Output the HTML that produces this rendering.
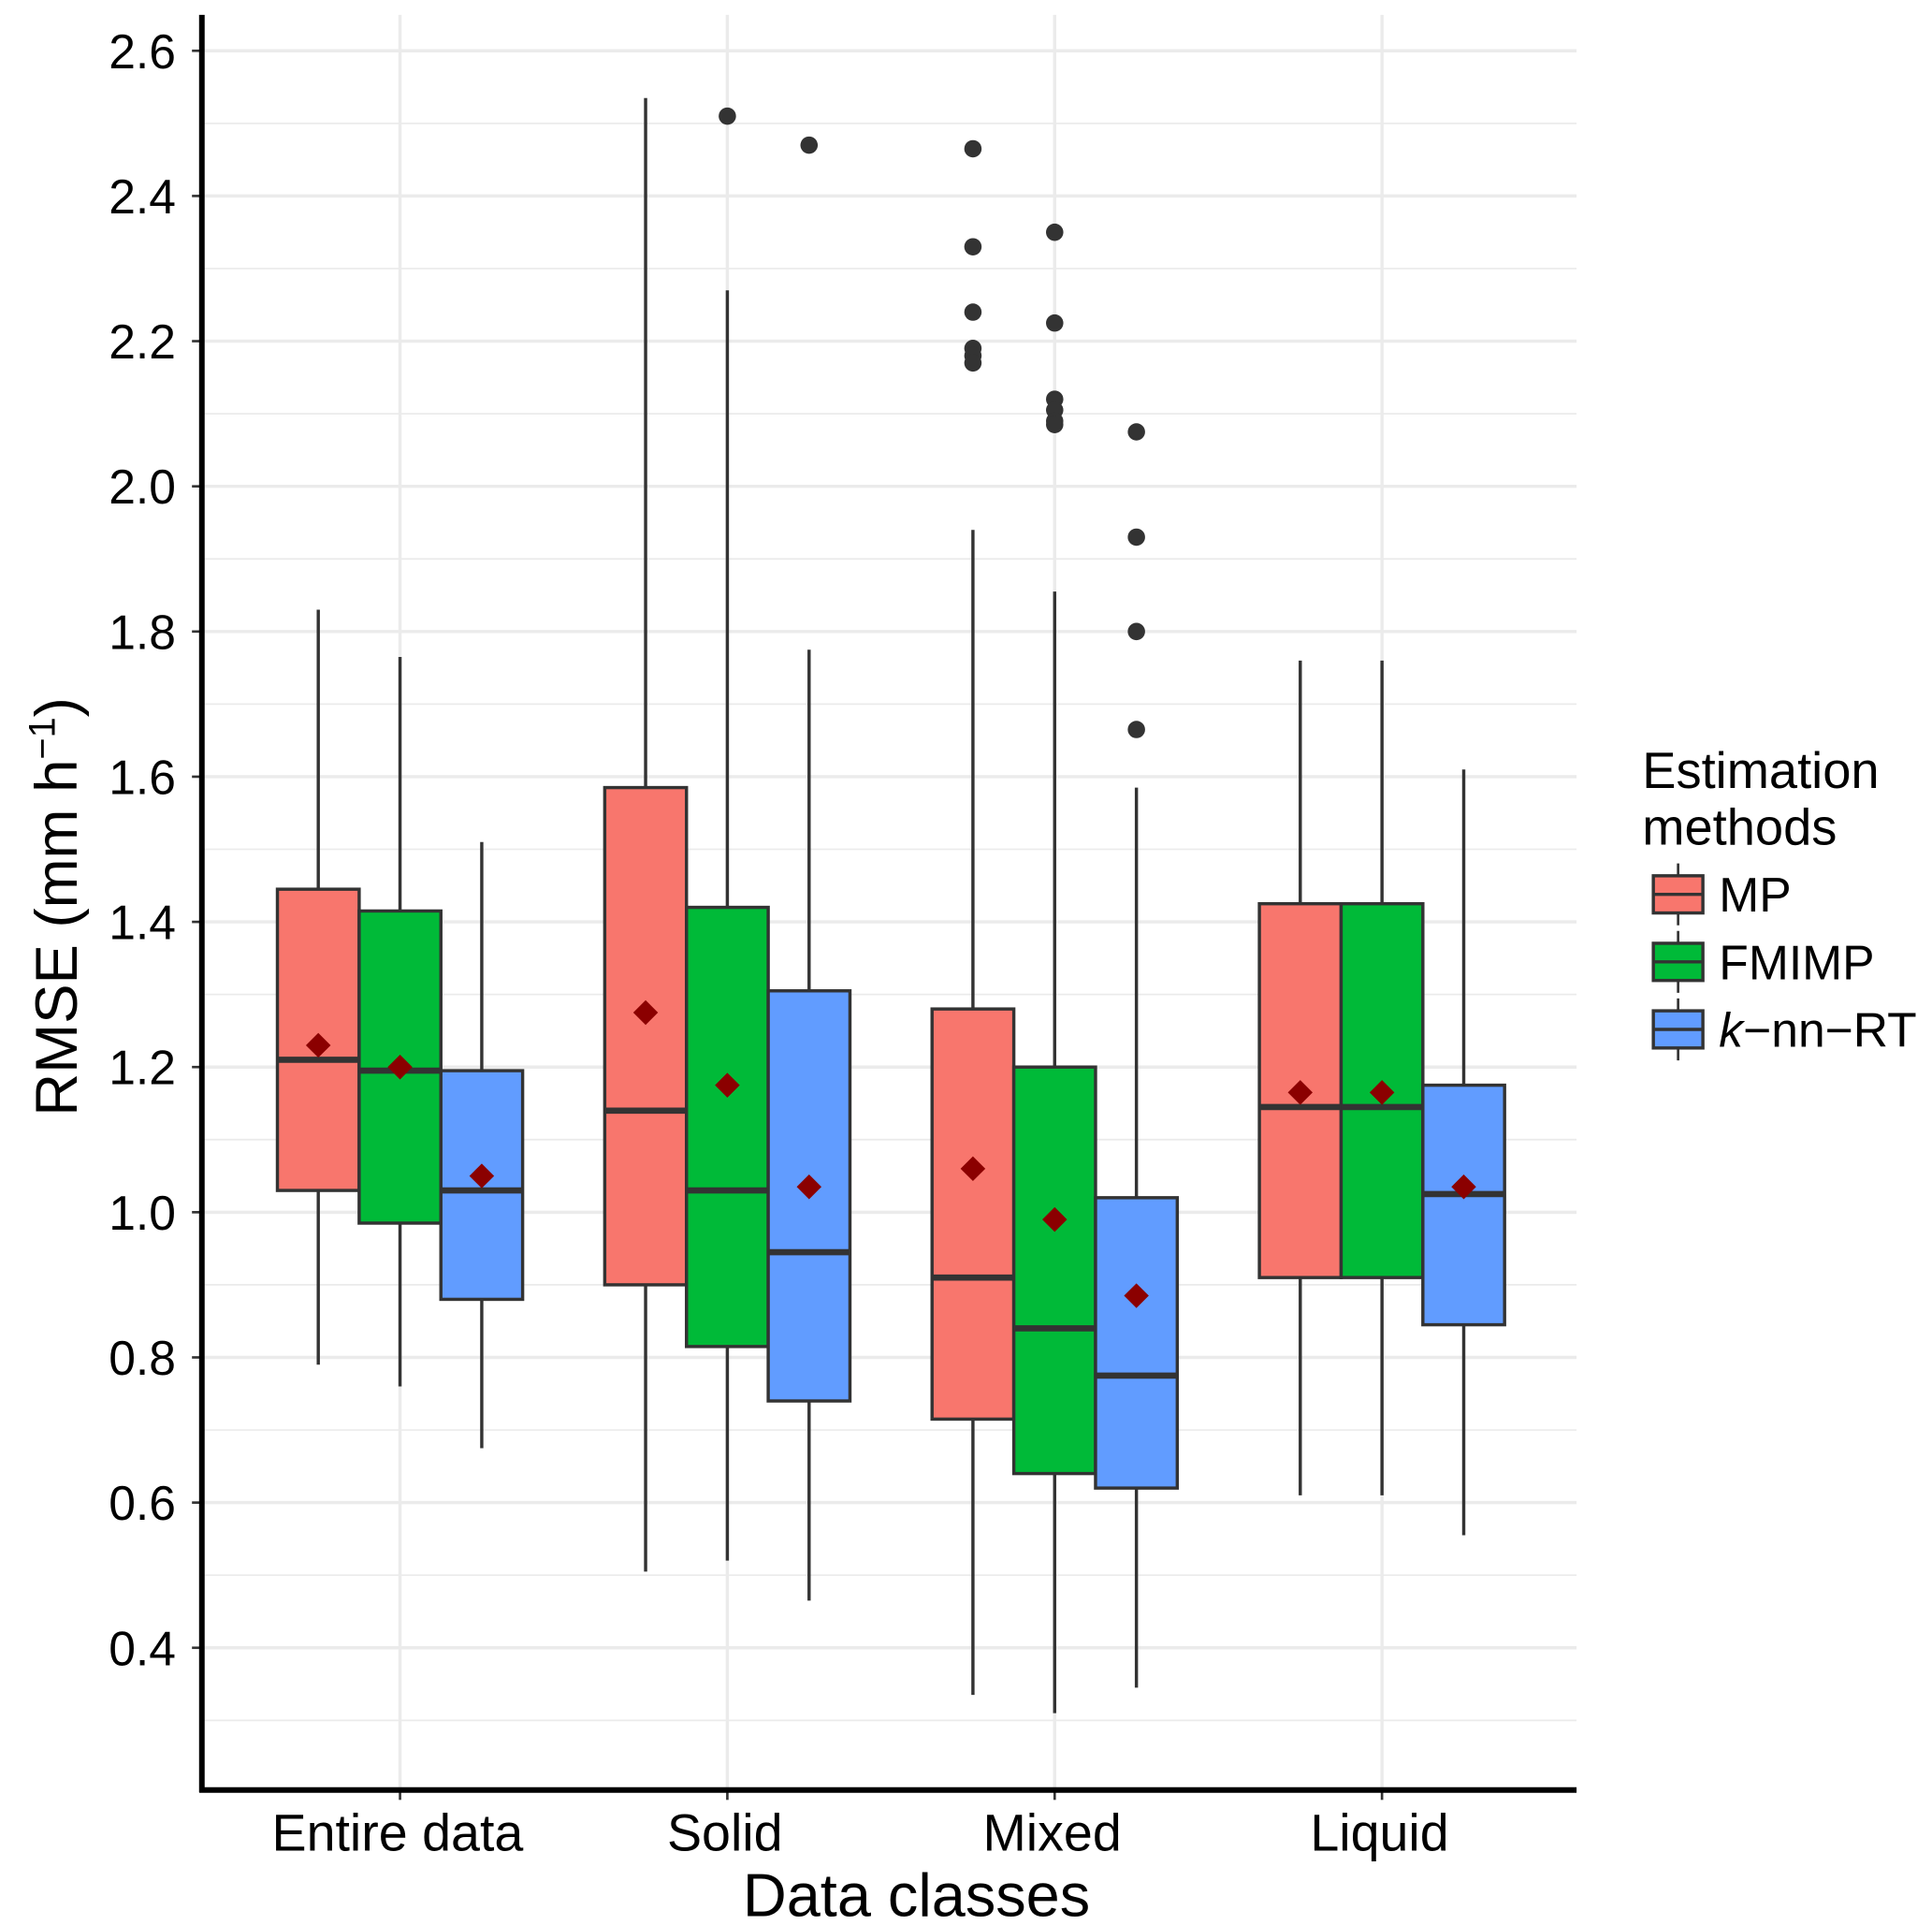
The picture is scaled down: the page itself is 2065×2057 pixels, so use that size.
<!DOCTYPE html>
<html><head><meta charset="utf-8"><style>
html,body{margin:0;padding:0;background:#fff}
svg{display:block}
text{font-family:"Liberation Sans",Arial,sans-serif;fill:#000}
</style></head><body>
<svg id="chart" width="2065" height="2057" viewBox="0 0 1560 1554" preserveAspectRatio="none">
<g id="grid"></g>
<g id="boxes"></g>
<g id="axes"></g>
<g id="legend">
<text x="1326" y="636" font-size="41">Estimation</text>
<text x="1326" y="682" font-size="41">methods</text>
</g>
<text x="740" y="1547" font-size="49" text-anchor="middle">Data classes</text>
<text transform="translate(62,732) rotate(-90)" font-size="48" text-anchor="middle">RMSE  (mm h<tspan font-size="30" dy="-18">−1</tspan><tspan dy="18">)</tspan></text>
</svg>
<script>
const categories=["Entire data","Solid","Mixed","Liquid"];
const methods=["MP","FMIMP","k-nn-RT"];
const colors=["#F8766D","#00BA38","#619CFF"];
const yTicks=[0.4,0.6,0.8,1.0,1.2,1.4,1.6,1.8,2.0,2.2,2.4,2.6];
// [lowWhisker, q1, median, q3, highWhisker, mean] per category per method
const statsMP=[[0.79,1.03,1.21,1.445,1.83,1.23],[0.505,0.90,1.14,1.585,2.535,1.275],[0.335,0.715,0.91,1.28,1.94,1.06],[0.61,0.91,1.145,1.425,1.76,1.165]];
const statsFMIMP=[[0.76,0.985,1.195,1.415,1.765,1.20],[0.52,0.815,1.03,1.42,2.27,1.175],[0.31,0.64,0.84,1.20,1.855,0.99],[0.61,0.91,1.145,1.425,1.76,1.165]];
const statsKNN=[[0.675,0.88,1.03,1.195,1.51,1.05],[0.465,0.74,0.945,1.305,1.775,1.035],[0.345,0.62,0.775,1.02,1.585,0.885],[0.555,0.845,1.025,1.175,1.61,1.035]];
const outliersMP=[[],[],[2.465,2.33,2.24,2.19,2.18,2.17],[]];
const outliersFMIMP=[[],[2.51],[2.35,2.225,2.12,2.105,2.09,2.085],[]];
const outliersKNN=[[],[2.47],[2.075,1.93,1.80,1.665],[]];

const NS="http://www.w3.org/2000/svg";
const X0=163,X1=1273,YB=1445,YT=12;
const y=v=>41+(2.6-v)*586;
const xc=i=>323+i*264.3;
const bw=66;
function mk(p,tag,a){const e=document.createElementNS(NS,tag);for(const k in a)e.setAttribute(k,a[k]);p.appendChild(e);return e;}
const grid=document.getElementById('grid'),boxes=document.getElementById('boxes'),axes=document.getElementById('axes'),legend=document.getElementById('legend');
for(let v=0.3;v<=2.55;v+=0.2){const l=mk(grid,'line',{x1:X0,x2:X1,y1:y(v),y2:y(v),stroke:'#ebebeb','stroke-width':1.3});

}
yTicks.forEach(v=>{const l=mk(grid,'line',{x1:X0,x2:X1,y1:y(v),y2:y(v),stroke:'#ebebeb','stroke-width':2.6});


const t=mk(axes,'text',{x:142,y:y(v)+14,'font-size':39,'text-anchor':'end'});t.textContent=v.toFixed(1);


const tk=mk(axes,'line',{x1:155,x2:163,y1:y(v),y2:y(v),stroke:'#333','stroke-width':2});

});
categories.forEach((c,i)=>{const l=mk(grid,'line',{x1:xc(i),x2:xc(i),y1:YT,y2:YB,stroke:'#ebebeb','stroke-width':2.6});


const t=mk(axes,'text',{x:xc(i)-2,y:1494,'font-size':42,'text-anchor':'middle'});t.textContent=c;


const tk=mk(axes,'line',{x1:xc(i),x2:xc(i),y1:YB,y2:YB+8,stroke:'#333','stroke-width':2});

});
const allStats=[statsMP,statsFMIMP,statsKNN],allOut=[outliersMP,outliersFMIMP,outliersKNN];
categories.forEach((c,i)=>{allStats.forEach((S,m)=>{const s=S[i];const cx=xc(i)+(m-1)*bw;
const g=mk(boxes,'g',{});


mk(g,'line',{x1:cx,x2:cx,y1:y(s[0]),y2:y(s[4]),stroke:'#333','stroke-width':2.6});
mk(g,'rect',{x:cx-bw/2,y:y(s[3]),width:bw,height:y(s[1])-y(s[3]),fill:colors[m],stroke:'#333','stroke-width':2.6});
mk(g,'line',{x1:cx-bw/2,x2:cx+bw/2,y1:y(s[2]),y2:y(s[2]),stroke:'#333','stroke-width':5});
allOut[m][i].forEach(o=>{const d=mk(g,'circle',{cx:cx,cy:y(o),r:7,fill:'#333'});

});
const my=y(s[5]);const d=mk(g,'polygon',{points:`${cx},${my-10} ${cx+10},${my} ${cx},${my+10} ${cx-10},${my}`,fill:'#8B0000'});

});});
mk(axes,'line',{x1:X0,x2:X0,y1:YT,y2:YB+2,stroke:'#000','stroke-width':4.5});
mk(axes,'line',{x1:X0-2,x2:X1,y1:YB,y2:YB,stroke:'#000','stroke-width':4.5});
methods.forEach((mname,m)=>{const cy=722+m*54.5;
const g=mk(legend,'g',{});


mk(g,'line',{x1:1355,x2:1355,y1:cy-25,y2:cy+25,stroke:'#333','stroke-width':2});
mk(g,'rect',{x:1335,y:cy-15,width:40,height:30,fill:colors[m],stroke:'#333','stroke-width':2.6});
mk(g,'line',{x1:1335,x2:1375,y1:cy,y2:cy,stroke:'#333','stroke-width':2.6});
const t=mk(g,'text',{x:1388,y:cy+14,'font-size':39});
if(m===2){t.innerHTML='<tspan font-style="italic">k</tspan>−nn−RT';}else t.textContent=mname;});
</script>
</body></html>
